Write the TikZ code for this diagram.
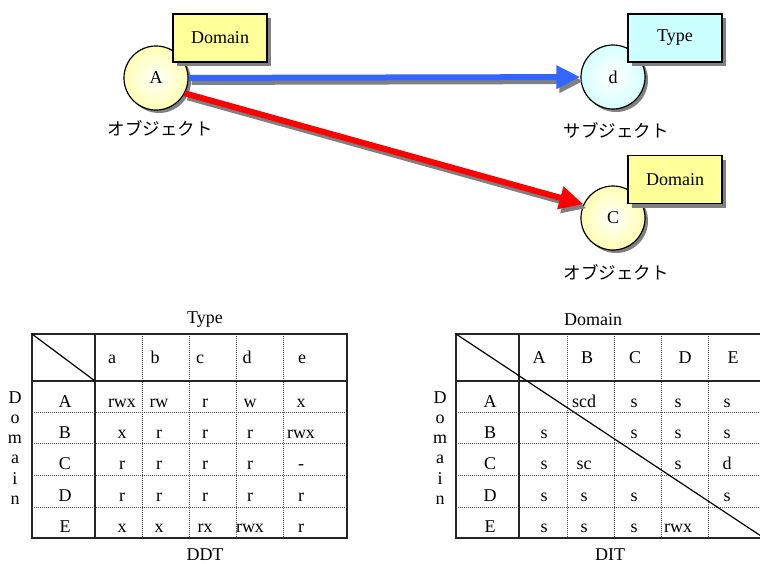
\documentclass[tikz,border=0pt]{standalone}
\usepackage{fontspec}
\setmainfont{Liberation Serif}
\newfontfamily\jpfont{Noto Sans CJK JP}
\usetikzlibrary{arrows.meta,shadows}

\definecolor{amarillo}{RGB}{255,255,153}
\definecolor{celeste}{RGB}{204,255,255}
\definecolor{azul}{RGB}{51,102,255}
\definecolor{sombra}{RGB}{128,128,128}

\pgfdeclareradialshading{bolaamarilla}{\pgfpoint{0bp}{0bp}}{color(0bp)=(white); color(30bp)=(amarillo!90!white); color(50bp)=(amarillo!90!white)}
\pgfdeclareradialshading{bolaceleste}{\pgfpoint{0bp}{0bp}}{color(0bp)=(white); color(30bp)=(celeste!95!white); color(50bp)=(celeste!95!white)}

\tikzset{
  bola/.style={circle, draw, line width=1.2pt, minimum size=64pt, inner sep=0pt, shade,
    drop shadow={shadow xshift=3pt, shadow yshift=-3pt, fill=sombra, opacity=1}},
  etiqueta/.style={draw, line width=1.2pt, minimum width=94pt, minimum height=48pt,
    drop shadow={shadow xshift=4pt, shadow yshift=-4pt, fill=sombra, opacity=1}},
  flecha/.style={line width=6pt, -{Triangle[length=24pt,width=22pt]}},
  jp/.style={font=\jpfont\fontsize{17.5}{20}\selectfont},
  marco/.style={line width=1.5pt, black!85},
  punteado/.style={line width=0.8pt, black!70, dash pattern=on 1pt off 1pt},
  celda/.style={anchor=base, inner sep=0pt}
}

\begin{document}
\begin{tikzpicture}[x=1pt, y=-1pt, font=\fontsize{18}{20}\selectfont]
    \useasboundingbox (0,0) rectangle (760,563);

    % sujetos y objetos
    \node[bola, shading=bolaamarilla] (objA) at (156,78) {A};
    \node[bola, shading=bolaceleste] (subD) at (613,77) {d};
    \node[bola, shading=bolaamarilla] (objC) at (613,218) {C};

    % flechas con su sombra
    \draw[flecha, sombra, transform canvas={xshift=3pt,yshift=-4pt}] (objA) -- (subD);
    \draw[flecha, azul] (objA) -- (subD);
    \draw[flecha, sombra, transform canvas={xshift=3pt,yshift=-4pt}] (objA.-28) -- (objC.155);
    \draw[flecha, red] (objA.-28) -- (objC.155);

    \node[etiqueta, fill=amarillo] (domA) at (220,38) {Domain};
    \node[etiqueta, fill=celeste] (tipoD) at (675,38) {Type};
    \node[etiqueta, fill=amarillo] (domC) at (675,179.5) {Domain};

    \node[jp] (nomA) at (160,128) {オブジェクト};
    \node[jp] (nomD) at (616,130) {サブジェクト};
    \node[jp] (nomC) at (616,272) {オブジェクト};

    % tabla DDT
    \draw[punteado] foreach \x in {142,189,236,283} {(\x,334) -- (\x,538)};
    \draw[punteado] foreach \y in {412,443,475,507} {(32,\y) -- (347,\y)};
    \draw[marco] (32,334) rectangle (347,538);
    \draw[marco] (95,334) -- (95,538) (32,381) -- (347,381);
    \draw[line width=1.2pt] (32,334) -- (95,381);
    \node (ddtT) at (205,320) {Type};
    \node[celda] (ddtN) at (205,560) {DDT};
    \foreach \c [count=\j] in {a,b,c,d,e} {
        \pgfmathsetmacro{\xc}{{112,155,200,247,302}[\j-1]}
        \node[celda] (ddt-h\j) at (\xc,363) {\c};
    }
    \foreach \f [count=\i] in {A,B,C,D,E}
        \node[celda] (ddt-f\i) at (65,{407+31.4*(\i-1)}) {\f};
    \foreach \fila [count=\i] in {{rwx,rw,r,w,x},{x,r,r,r,rwx},{r,r,r,r,-},{r,r,r,r,r},{x,x,rx,rwx,r}} {
        \foreach \v [count=\j] in \fila {
            \pgfmathsetmacro{\xc}{{122,159,205,250,301}[\j-1]}
            \node[celda] (ddt-\i-\j) at (\xc,{407+31.4*(\i-1)}) {\v};
        }
    }
    \foreach \l [count=\i] in {D,o,m,a,i,n}
        \node[celda] (ddt-v\i) at (15,{403+20.3*(\i-1)}) {\l};

    % tabla DIT
    \draw[punteado] foreach \x in {567,614,661,708} {(\x,334) -- (\x,538)};
    \draw[punteado] foreach \y in {412,443,475,507} {(456,\y) -- (764,\y)};
    \draw[marco] (456,334) rectangle (764,538);
    \draw[marco] (519,334) -- (519,538) (456,381) -- (764,381);
    \draw[line width=1.2pt] (456,334) -- (764,538);
    \node (ditT) at (593,320) {Domain};
    \node[celda] (ditN) at (610,560) {DIT};
    \foreach \c [count=\j] in {A,B,C,D,E} {
        \pgfmathsetmacro{\xc}{{539,587,635,685,733}[\j-1]}
        \node[celda] (dit-h\j) at (\xc,363) {\c};
    }
    \foreach \f [count=\i] in {A,B,C,D,E}
        \node[celda] (dit-f\i) at (490,{407+31.4*(\i-1)}) {\f};
    \foreach \fila [count=\i] in {{{},scd,s,s,s},{s,{},s,s,s},{s,sc,{},s,d},{s,s,s,{},s},{s,s,s,rwx,{}}} {
        \foreach \v [count=\j] in \fila {
            \pgfmathsetmacro{\xc}{{544,584,634,678,727}[\j-1]}
            \node[celda] (dit-\i-\j) at (\xc,{407+31.4*(\i-1)}) {\v};
        }
    }
    \foreach \l [count=\i] in {D,o,m,a,i,n}
        \node[celda] (dit-v\i) at (440,{403+20.3*(\i-1)}) {\l};
\end{tikzpicture}
\end{document}
